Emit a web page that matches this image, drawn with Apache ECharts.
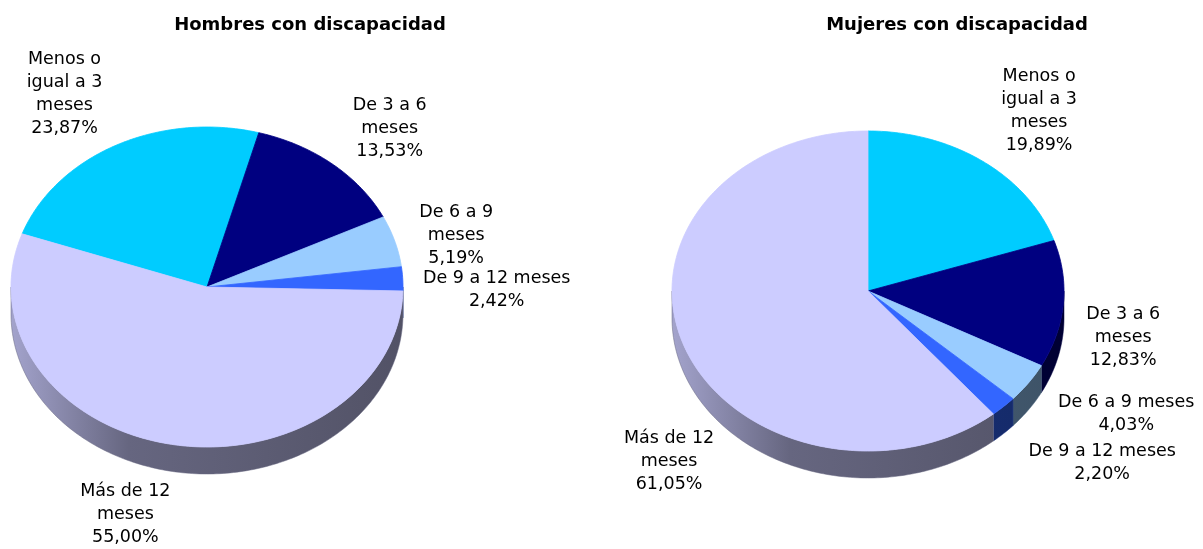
<!DOCTYPE html>
<html>
<head>
<meta charset="utf-8">
<script src="https://cdn.jsdelivr.net/npm/echarts@6/dist/echarts.min.js"></script>
<style>
html, body { margin: 0; padding: 0; background: #fff; }
#chart { width: 1203px; height: 549px; }
</style>
</head>
<body>
<div id="chart"></div>
<script>
var categories = ['Menos o igual a 3 meses', 'De 3 a 6 meses', 'De 6 a 9 meses', 'De 9 a 12 meses', 'Más de 12 meses'];
var hombres = [23.87, 13.53, 5.19, 2.42, 55.00];
var mujeres = [19.89, 12.83, 4.03, 2.20, 61.05];
var labelsH = ['Menos o\nigual a 3\nmeses', 'De 3 a 6\nmeses', 'De 6 a 9\nmeses', 'De 9 a 12 meses', 'Más de 12\nmeses'];
var labelsM = ['Menos o\nigual a 3\nmeses', 'De 3 a 6\nmeses', 'De 6 a 9 meses', 'De 9 a 12 meses', 'Más de 12\nmeses'];
var colors = ['#00CCFF', '#000080', '#99CCFF', '#3366FF', '#CCCCFF'];

// layout of the two tilted pies
var RX = 196, RY = 160, DEPTH = 27;
var FONT = 'DejaVu Sans';
var pies = [
  { title: 'Hombres con discapacidad', data: hombres, labels: labelsH, cx: 207, cy: 287, start: 160.6, titleX: 305,
    shift: [[-33, -16], [32, -5], [23, 6], [54, 13], [-39, 4]] },
  { title: 'Mujeres con discapacidad', data: mujeres, labels: labelsM, cx: 868, cy: 291, start: 90, titleX: 952,
    shift: [[33, -18], [20, 3], [65, -19], [71, 0], [23, 75]] }
];

function shade(hex, f) {
  var n = parseInt(hex.slice(1), 16);
  var r = Math.round(((n >> 16) & 255) * f), g = Math.round(((n >> 8) & 255) * f), b = Math.round((n & 255) * f);
  return 'rgb(' + r + ',' + g + ',' + b + ')';
}

function makeRender(p) {
  var total = p.data.reduce(function (a, b) { return a + b; }, 0);
  function pt(t, dy) {
    var r = t * Math.PI / 180;
    return [p.cx + RX * Math.cos(r), p.cy - RY * Math.sin(r) + dy];
  }
  return function (params, api) {
    var i = params.dataIndex;
    var before = 0;
    for (var k = 0; k < i; k++) before += p.data[k];
    var v = api.value(0);
    var a1 = p.start - before / total * 360;
    var a2 = a1 - v / total * 360;
    var col = colors[i];
    var children = [];

    // side wall (front half only)
    for (var off = -360; off <= 360; off += 360) {
      var lo = Math.max(a2, -180 + off), hi = Math.min(a1, off);
      if (hi <= lo) continue;
      var pts = [], n = Math.max(2, Math.ceil(hi - lo));
      for (var s = 0; s <= n; s++) pts.push(pt(lo + (hi - lo) * s / n, 0));
      for (var s2 = n; s2 >= 0; s2--) pts.push(pt(lo + (hi - lo) * s2 / n, DEPTH));
      children.push({
        type: 'polygon', z2: 1,
        shape: { points: pts },
        style: {
          fill: new echarts.graphic.LinearGradient(p.cx - RX, 0, p.cx + RX, 0, [
            { offset: 0, color: shade(col, 0.8) },
            { offset: 0.3, color: shade(col, 0.5) },
            { offset: 1, color: shade(col, 0.4) }
          ], true),
          stroke: shade(col, 0.5), lineWidth: 0.5
        }
      });
    }

    // top face
    var top = [[p.cx, p.cy]], m = Math.max(2, Math.ceil(a1 - a2));
    for (var j = 0; j <= m; j++) top.push(pt(a1 - (a1 - a2) * j / m, 0));
    children.push({
      type: 'polygon', z2: 5,
      shape: { points: top },
      style: { fill: col, stroke: col, lineWidth: 0.8 }
    });

    // label
    var mid = (a1 + a2) / 2 * Math.PI / 180;
    var c = Math.cos(mid), sn = Math.sin(mid);
    var lx = p.cx + c * (RX + 40) + p.shift[i][0];
    var ly = p.cy - sn * (RY + 40) + (sn < 0 ? DEPTH : 0) + p.shift[i][1];
    children.push({
      type: 'text', z2: 10,
      style: {
        text: p.labels[i] + '\n' + v.toFixed(2).replace('.', ',') + '%',
        x: lx, y: ly, fill: '#000',
        fontFamily: FONT, fontSize: 17.5, lineHeight: 23,
        align: 'center', verticalAlign: 'middle'
      }
    });
    return { type: 'group', children: children };
  };
}

var chart = echarts.init(document.getElementById('chart'));
chart.setOption({
  animation: false,
  backgroundColor: '#fff',
  title: pies.map(function (p) {
    return {
      text: p.title, left: p.titleX, top: 11, textAlign: 'center',
      textStyle: { fontFamily: FONT, fontSize: 18, fontWeight: 'bold', color: '#000' }
    };
  }),
  series: pies.map(function (p) {
    return {
      type: 'custom', coordinateSystem: 'none', silent: true,
      data: p.data.map(function (v, i) { return { value: [v], name: categories[i] }; }),
      renderItem: makeRender(p)
    };
  })
});
</script>
</body>
</html>
